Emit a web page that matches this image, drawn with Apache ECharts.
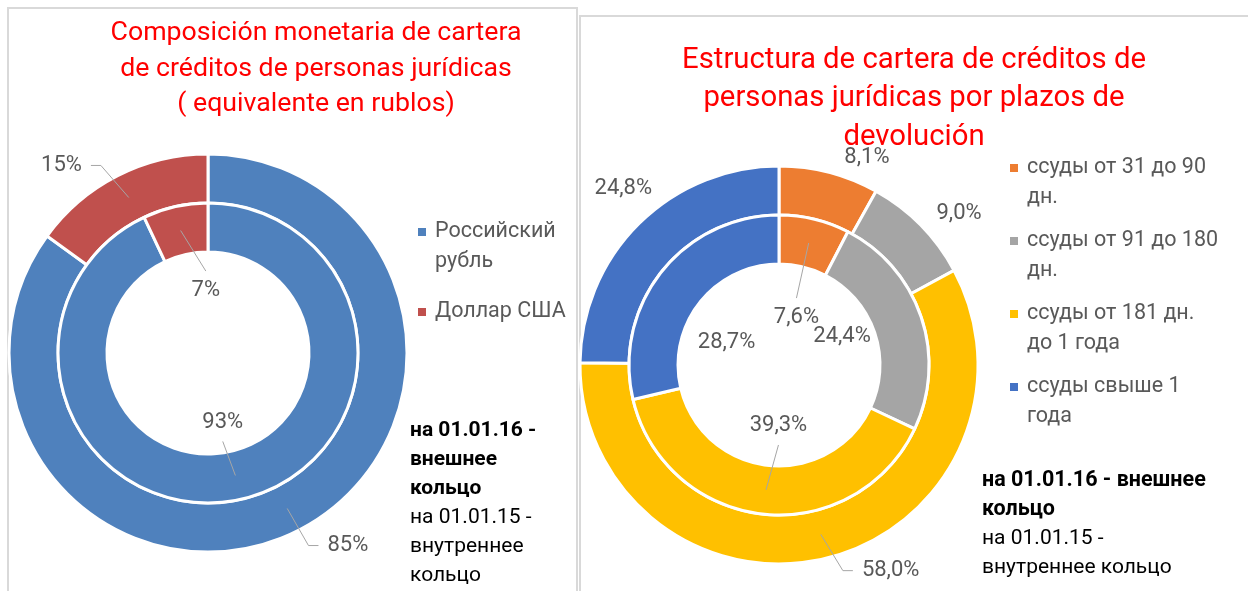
<!DOCTYPE html>
<html>
<head>
<meta charset="utf-8">
<title>Кредитный портфель юридических лиц</title>
<script src="https://cdn.jsdelivr.net/npm/echarts@6/dist/echarts.min.js"></script>
<style>
    html, body { margin: 0; padding: 0; background: #fff; }
    #main { width: 1248px; height: 591px; }
</style>
</head>
<body>
<div id="main"></div>
<script>
// левая диаграмма - валютная структура
var currencyNames = ['Российский\nрубль', 'Доллар США'];
var currency2016 = [85, 15];   // внешнее кольцо, 01.01.16
var currency2015 = [93, 7];    // внутреннее кольцо, 01.01.15

// правая диаграмма - по срокам погашения
var termNames = ['ссуды от 31 до 90\nдн.', 'ссуды от 91 до 180\nдн.', 'ссуды от 181 дн.\nдо 1 года', 'ссуды свыше 1\nгода'];
var term2016 = [8.1, 9.0, 58.0, 24.8];
var term2015 = [7.6, 24.4, 39.3, 28.7];

var FONT = 'Roboto, "Noto Sans", sans-serif';
var LABEL_SIZE = 22;
var leftCenter = [208, 353];
var rightCenter = [779, 365];
var outerRadius = [150, 199];
var innerRadius = [101, 150];

// where Excel put the data labels: [deg clockwise from 12 o'clock, px from centre, leader line]
var leftOuterSpots = [[144, 238, 1], [-38, 238, 1]];
var leftInnerSpots = [[168, 71, 1], [-2, 63, 1]];
var rightOuterSpots = [[23, 225, 0], [50, 235, 0], [151.5, 234, 1], [-41.5, 235, 0]];
var rightInnerSpots = [[20, 51, 1], [66, 69, 0], [180.5, 61, 1], [-67, 57, 0]];

var pctInt = function (v) { return v + '%'; };
var pctComma = function (v) { return v.toFixed(1).replace('.', ',') + '%'; };

var measureCtx = document.createElement('canvas').getContext('2d');
function textWidth(str) {
    measureCtx.font = LABEL_SIZE + 'px ' + FONT;
    return measureCtx.measureText(str).width;
}

function polar(center, r, rad) {
    return [center[0] + r * Math.sin(rad), center[1] - r * Math.cos(rad)];
}

function midAngle(values, i) {
    var total = 0, before = 0;
    values.forEach(function (v, k) { total += v; if (k < i) before += v; });
    return (before + values[i] / 2) / total * Math.PI * 2;
}

function spotPos(center, spot) {
    return polar(center, spot[1], spot[0] * Math.PI / 180);
}

function placeLabels(center, spots) {
    return function (p) {
        var pos = spotPos(center, spots[p.dataIndex]);
        return {x: pos[0], y: pos[1], align: 'center', verticalAlign: 'middle'};
    };
}

// leader lines like Excel: from the middle of the ring to the label
function leaderLines(center, radius, values, spots, elbow, fmt) {
    var ringMid = (radius[0] + radius[1]) / 2;
    var out = [];
    values.forEach(function (v, i) {
        var s = spots[i];
        if (!s[2]) return;
        var pos = spotPos(center, s);
        var anchor = polar(center, ringMid, midAngle(values, i));
        var pts;
        if (elbow) {
            var side = pos[0] < center[0] ? 1 : -1;
            var end = [pos[0] + side * (textWidth(fmt(v)) / 2 + 9), pos[1]];
            pts = [anchor, [end[0] + side * 10, pos[1]], end];
        } else {
            var dir = pos[1] < anchor[1] ? 1 : -1;
            pts = [anchor, [pos[0], pos[1] + dir * 19]];
        }
        out.push({
            type: 'polyline', silent: true, z: 10,
            shape: {points: pts},
            style: {stroke: '#A6A6A6', lineWidth: 1, fill: null}
        });
    });
    return out;
}

function ring(center, radius, names, values, colors, spots, fmt) {
    return {
        type: 'pie',
        center: center,
        radius: radius,
        startAngle: 90,
        clockwise: true,
        avoidLabelOverlap: false,
        color: colors,
        itemStyle: {borderColor: '#fff', borderWidth: 3},
        label: {
            show: true,
            position: 'outside',
            formatter: function (p) { return fmt(p.value); },
            color: '#595959',
            fontSize: LABEL_SIZE,
            fontFamily: FONT
        },
        labelLine: {show: false},
        labelLayout: placeLabels(center, spots),
        emphasis: {scale: false},
        data: values.map(function (v, i) { return {name: names[i], value: v}; })
    };
}

var leftColors = ['#4F81BD', '#C0504D'];
var rightColors = ['#ED7D31', '#A5A5A5', '#FFC000', '#4472C4'];

var legendIcon = 'path://M0,0L12,0M0,11H8V19H0ZM0,60L12,60';
var legendText = {color: '#595959', fontSize: 21.5, lineHeight: 30, fontFamily: FONT};
var twoLines = function (name) { return name.indexOf('\n') < 0 ? name + '\n ' : name; };

var graphics = [
    {type: 'rect', silent: true, shape: {x: 8, y: 8, width: 569, height: 640},
        style: {fill: 'none', stroke: '#D9D9D9', lineWidth: 2}},
    {type: 'rect', silent: true, shape: {x: 580, y: 16, width: 700, height: 640},
        style: {fill: 'none', stroke: '#D9D9D9', lineWidth: 2}},
    {type: 'text', x: 410, y: 416, style: {text: 'на 01.01.16 -\nвнешнее\nкольцо',
        fontSize: 21, fontWeight: 'bold', fontFamily: FONT, fill: '#000', lineHeight: 29}},
    {type: 'text', x: 410, y: 503, style: {text: 'на 01.01.15 -\nвнутреннее\nкольцо',
        fontSize: 21, fontFamily: FONT, fill: '#000', lineHeight: 29}},
    {type: 'text', x: 982, y: 466, style: {text: 'на 01.01.16 - внешнее\nкольцо',
        fontSize: 21.5, fontWeight: 'bold', fontFamily: FONT, fill: '#000', lineHeight: 29}},
    {type: 'text', x: 982, y: 524, style: {text: 'на 01.01.15 -\nвнутреннее кольцо',
        fontSize: 21, fontFamily: FONT, fill: '#000', lineHeight: 29}}
].concat(
    leaderLines(leftCenter, outerRadius, currency2016, leftOuterSpots, true, pctInt),
    leaderLines(leftCenter, innerRadius, currency2015, leftInnerSpots, false, pctInt),
    leaderLines(rightCenter, outerRadius, term2016, rightOuterSpots, true, pctComma),
    leaderLines(rightCenter, innerRadius, term2015, rightInnerSpots, false, pctComma)
);

var option = {
    backgroundColor: '#fff',
    animation: false,
    title: [{
        text: 'Composición monetaria de cartera\nde créditos de personas jurídicas\n( equivalente en rublos)',
        left: 316, top: 16, textAlign: 'center', padding: 0,
        textStyle: {color: '#FF0000', fontSize: 26.7, fontWeight: 'normal', fontFamily: FONT, lineHeight: 35.5}
    }, {
        text: 'Estructura de cartera de créditos de\npersonas jurídicas por plazos de\ndevolución',
        left: 914, top: 41, textAlign: 'center', padding: 0,
        textStyle: {color: '#FF0000', fontSize: 29.3, fontWeight: 'normal', fontFamily: FONT, lineHeight: 38.5}
    }],
    legend: [{
        data: currencyNames,
        orient: 'vertical', left: 418, top: 217, padding: 0,
        itemWidth: 12, itemHeight: 60, itemGap: 20,
        icon: legendIcon, itemStyle: {borderWidth: 0},
        selectedMode: false, formatter: twoLines, textStyle: legendText
    }, {
        data: termNames,
        orient: 'vertical', left: 1010, top: 153, padding: 0,
        itemWidth: 12, itemHeight: 60, itemGap: 13,
        icon: legendIcon, itemStyle: {borderWidth: 0},
        selectedMode: false, formatter: twoLines, textStyle: legendText
    }],
    graphic: graphics,
    series: [
        ring(leftCenter, outerRadius, currencyNames, currency2016, leftColors, leftOuterSpots, pctInt),
        ring(leftCenter, innerRadius, currencyNames, currency2015, leftColors, leftInnerSpots, pctInt),
        ring(rightCenter, outerRadius, termNames, term2016, rightColors, rightOuterSpots, pctComma),
        ring(rightCenter, innerRadius, termNames, term2015, rightColors, rightInnerSpots, pctComma)
    ]
};

var chart = echarts.init(document.getElementById('main'));
chart.setOption(option);
</script>
</body>
</html>
